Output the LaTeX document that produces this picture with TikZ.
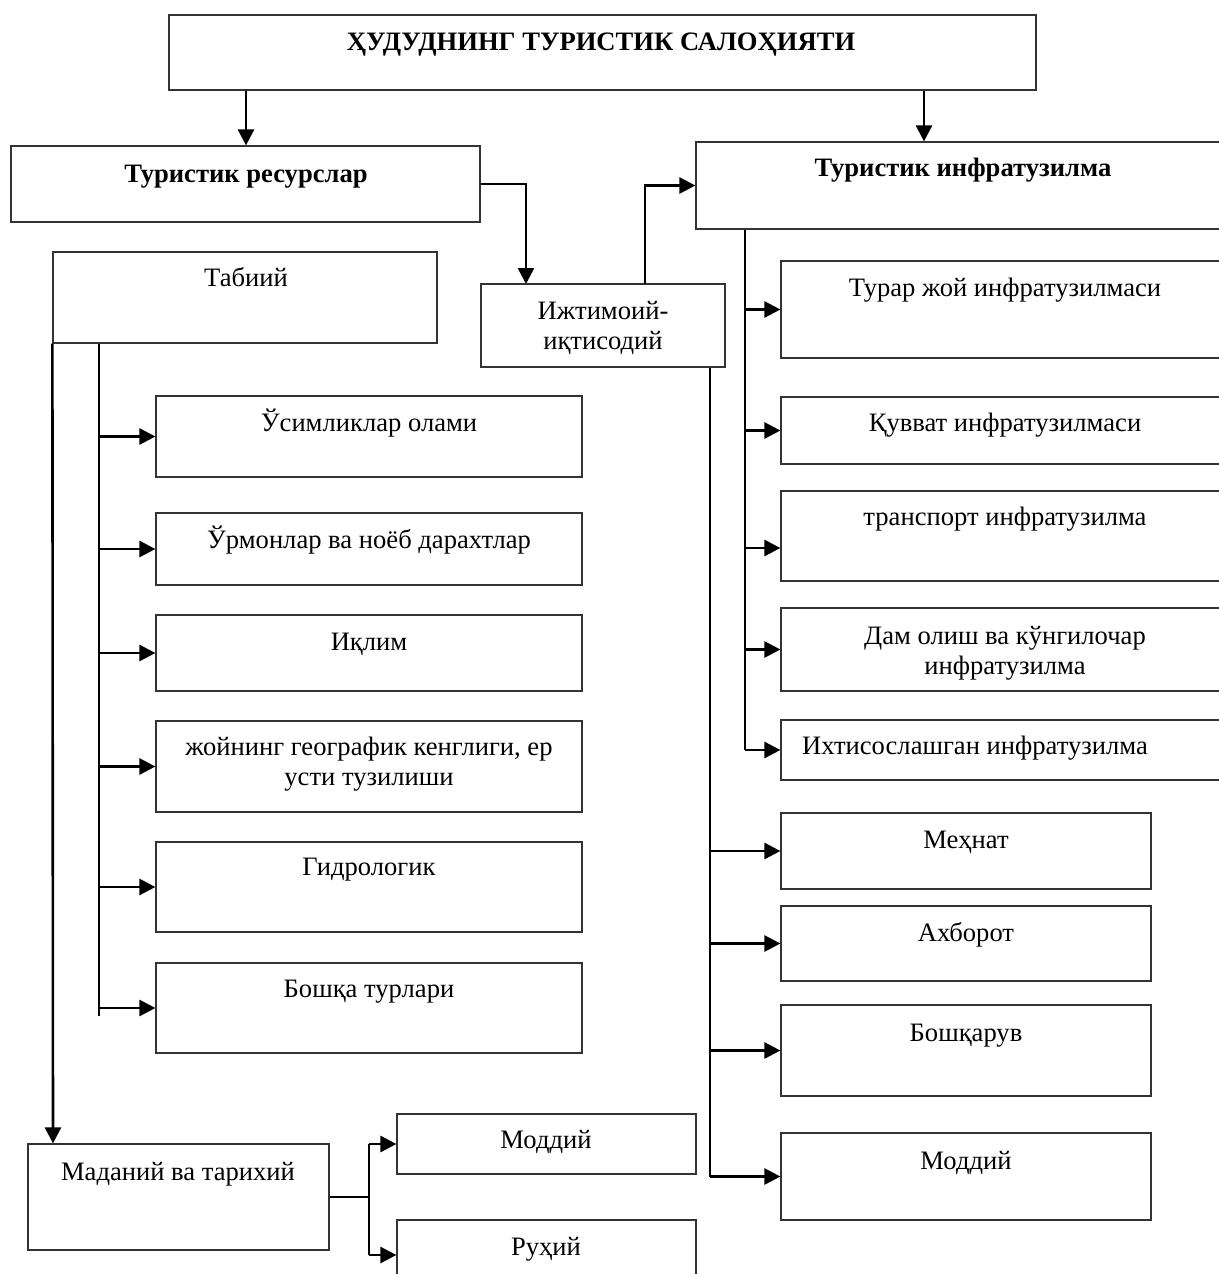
\documentclass[tikz,border=0pt]{standalone}
\usepackage{fontspec}
\setmainfont{Liberation Serif}
\usetikzlibrary{arrows.meta,fit,calc}
\begin{document}
\begin{tikzpicture}[x=0.5pt,y=-0.5pt,
 box/.style={draw=black!80, line width=0.6pt, inner sep=0pt},
 txt/.style={font=\fontsize{13.3}{15}\selectfont, inner sep=0pt, align=center, anchor=base},
 btxt/.style={txt, font=\fontsize{13.3}{15}\selectfont\bfseries},
 thinln/.style={line width=0.6pt},
 arr/.style={line width=1.3pt, -{Triangle[length=8pt,width=8pt]}}]
\useasboundingbox (0,0) rectangle (1219,1274);
\clip (0,0) rectangle (1219,1274);
% top level
\node[box, fit={(169,15) (1036,90)}] (title) {};
\node[btxt] (title-t) at (601,50) {ҲУДУДНИНГ ТУРИСТИК САЛОҲИЯТИ};
\node[box, fit={(11,146) (480,222)}] (res) {};
\node[btxt] (res-t) at (246,182) {Туристик ресурслар};
\node[box, fit={(696,142) (1240,229)}] (infra) {};
\node[btxt] (infra-t) at (963,176) {Туристик инфратузилма};
\node[box, fit={(53,252) (437,343)}] (tab) {};
\node[txt] (tab-t) at (246,286) {Табиий};
\node[box, fit={(481,284) (725,367)}] (ij) {};
\node[txt] (ij-t) at (603,349) {Ижтимоий-\\иқтисодий};
% left column
\node[box, fit={(156,396) (582,477)}] (l1) {};
\node[txt] (l1-t) at (369,431) {Ўсимликлар олами};
\node[box, fit={(156,513) (582,585)}] (l2) {};
\node[txt] (l2-t) at (369,548) {Ўрмонлар ва ноёб дарахтлар};
\node[box, fit={(156,615) (582,691)}] (l3) {};
\node[txt] (l3-t) at (369,650) {Иқлим};
\node[box, fit={(156,721) (582,812)}] (l4) {};
\node[txt] (l4-t) at (369,785) {жойнинг географик кенглиги, ер\\усти тузилиши};
\node[box, fit={(156,842) (582,932)}] (l5) {};
\node[txt] (l5-t) at (369,875) {Гидрологик};
\node[box, fit={(156,963) (582,1053)}] (l6) {};
\node[txt] (l6-t) at (369,997) {Бошқа турлари};
% right column (infrastructure)
\node[box, fit={(781,261) (1240,358)}] (r1) {};
\node[txt] (r1-t) at (1005,296) {Турар жой инфратузилмаси};
\node[box, fit={(781,397) (1240,464)}] (r2) {};
\node[txt] (r2-t) at (1005,431) {Қувват инфратузилмаси};
\node[box, fit={(781,491) (1240,581)}] (r3) {};
\node[txt] (r3-t) at (1005,525) {транспорт инфратузилма};
\node[box, fit={(781,608) (1240,691)}] (r4) {};
\node[txt] (r4-t) at (1005,674) {Дам олиш ва кўнгилочар\\инфратузилма};
\node[box, fit={(781,720) (1240,780)}] (r5) {};
\node[txt] (r5-t) at (975,754) {Ихтисослашган инфратузилма};
% right column (socio-economic)
\node[box, fit={(781,813) (1151,889)}] (s1) {};
\node[txt] (s1-t) at (966,848) {Меҳнат};
\node[box, fit={(781,906) (1151,981)}] (s2) {};
\node[txt] (s2-t) at (966,941) {Ахборот};
\node[box, fit={(781,1005) (1151,1096)}] (s3) {};
\node[txt] (s3-t) at (966,1041) {Бошқарув};
\node[box, fit={(781,1133) (1151,1220)}] (s4) {};
\node[txt] (s4-t) at (966,1169) {Моддий};
% cultural
\node[box, fit={(28,1144) (329,1250)}] (mad) {};
\node[txt] (mad-t) at (178,1180) {Маданий ва тарихий};
\node[box, fit={(397,1114) (696,1174)}] (m1) {};
\node[txt] (m1-t) at (546,1148) {Моддий};
\node[box, fit={(397,1220) (696,1290)}] (m2) {};
\node[txt] (m2-t) at (546,1255) {Руҳий};
% connectors
\coordinate (c1) at (246,0);
\coordinate (c2) at (924,0);
\draw[arr] (title.south -| c1) -- (res.north -| c1);
\draw[arr] (title.south -| c2) -- (infra.north -| c2);
\coordinate (k1) at (526,284);
\draw[arr] (res.east) -| (k1);
\coordinate (k2) at (645,284);
\draw[arr] (k2) |- (infra.west);
% left tree
\coordinate (v0) at (53,0);
\coordinate (v1) at (99,0);
\draw[arr] (tab.south west) -- (mad.north -| v0);
\draw[thinln] (tab.south -| v1) -- (99,1016);
\foreach \b in {l1,l2,l3,l4,l5,l6}{\draw[arr] (\b.west -| v1) -- (\b.west);}
% infrastructure tree
\coordinate (v2) at (745,0);
\draw[thinln] (infra.south -| v2) -- (r5.west -| v2);
\foreach \b in {r1,r2,r4,r5}{\draw[arr] (\b.west -| v2) -- (\b.west);}
\draw[arr] ([yshift=-6pt]r3.west -| v2) -- ([yshift=-6pt]r3.west);
% socio-economic tree
\coordinate (v3) at (710,0);
\draw[thinln] (ij.south -| v3) -- (s4.west -| v3);
\foreach \b in {s1,s2,s3,s4}{\draw[arr] (\b.west -| v3) -- (\b.west);}
% cultural tree
\coordinate (v4) at (369,0);
\draw[thinln] (mad.east) -- (mad.east -| v4);
\draw[thinln] (m1.west -| v4) -- (m2.west -| v4);
\draw[arr] (m1.west -| v4) -- (m1.west);
\draw[arr] (m2.west -| v4) -- (m2.west);
\end{tikzpicture}
\end{document}
